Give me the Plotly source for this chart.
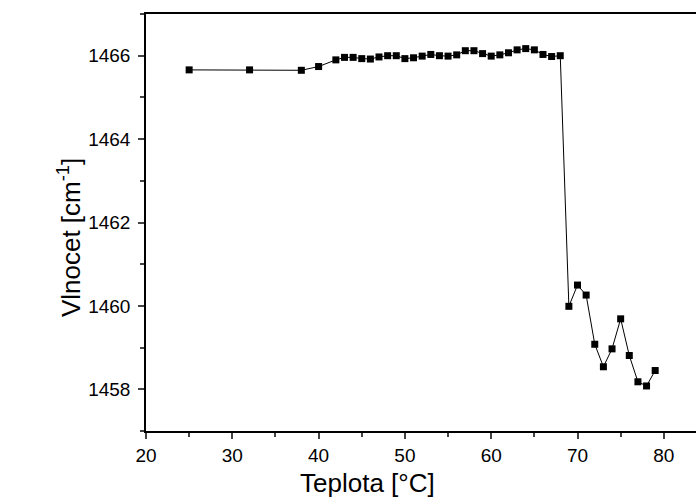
import plotly.graph_objects as go

temperature = [25, 32, 38, 40, 42, 43, 44, 45, 46, 47, 48, 49, 50, 51, 52, 53, 54, 55,
               56, 57, 58, 59, 60, 61, 62, 63, 64, 65, 66, 67, 68,
               69, 70, 71, 72, 73, 74, 75, 76, 77, 78, 79]
wavenumber = [1465.66, 1465.66, 1465.65, 1465.74, 1465.90, 1465.96, 1465.96, 1465.93, 1465.92,
              1465.97, 1466.00, 1466.00, 1465.93, 1465.95, 1465.99, 1466.03, 1466.00, 1465.99,
              1466.02, 1466.12, 1466.12, 1466.05, 1465.99, 1466.02, 1466.07, 1466.14, 1466.17,
              1466.14, 1466.03, 1465.98, 1466.00,
              1459.99, 1460.50, 1460.26, 1459.08, 1458.54, 1458.97, 1459.69, 1458.81, 1458.18,
              1458.08, 1458.45]

x_range = [20, 83.73]
y_range = [1457, 1467]
x_ticks = [20, 30, 40, 50, 60, 70, 80]
y_ticks = [1458, 1460, 1462, 1464, 1466]
x_title = "Teplota [°C]"
y_title = "Vlnocet [cm<sup>-1</sup>]"

FONT = "Liberation Sans, Arial, sans-serif"

fig = go.Figure()
fig.add_trace(go.Scatter(
    x=temperature, y=wavenumber, mode="lines+markers",
    line=dict(color="black", width=1),
    marker=dict(symbol="square", size=7, color="black"),
    showlegend=False, cliponaxis=False,
))

fig.update_layout(
    width=696, height=498,
    margin=dict(l=146, r=0, t=14, b=67),
    paper_bgcolor="white", plot_bgcolor="white",
    font=dict(family=FONT, color="black", size=19),
    xaxis=dict(
        range=x_range, tickvals=x_ticks, ticks="outside", ticklen=6, tickwidth=1.5,
        showline=True, linecolor="black", linewidth=1.5, mirror=True, showgrid=False,
        zeroline=False, tickfont=dict(size=19),
        minor=dict(dtick=5, tick0=0, ticks="outside", ticklen=4, tickwidth=1.5, showgrid=False),
    ),
    yaxis=dict(
        range=y_range, tickvals=y_ticks, ticks="outside", ticklen=6, tickwidth=1.5,
        showline=True, linecolor="black", linewidth=1.5, mirror=False, showgrid=False,
        zeroline=False, tickfont=dict(size=19), ticklabelstandoff=4,
        minor=dict(dtick=1, tick0=0, ticks="outside", ticklen=4, tickwidth=1.5, showgrid=False),
    ),
    annotations=[
        dict(text=x_title, xref="paper", yref="paper", x=0.4036, y=-0.1247,
             xanchor="center", yanchor="middle", showarrow=False, font=dict(size=26)),
        dict(text=y_title, xref="paper", yref="paper", x=-0.140, y=0.465,
             xanchor="center", yanchor="middle", showarrow=False, textangle=-90,
             font=dict(size=26)),
    ],
)

fig.write_html("out.html")
